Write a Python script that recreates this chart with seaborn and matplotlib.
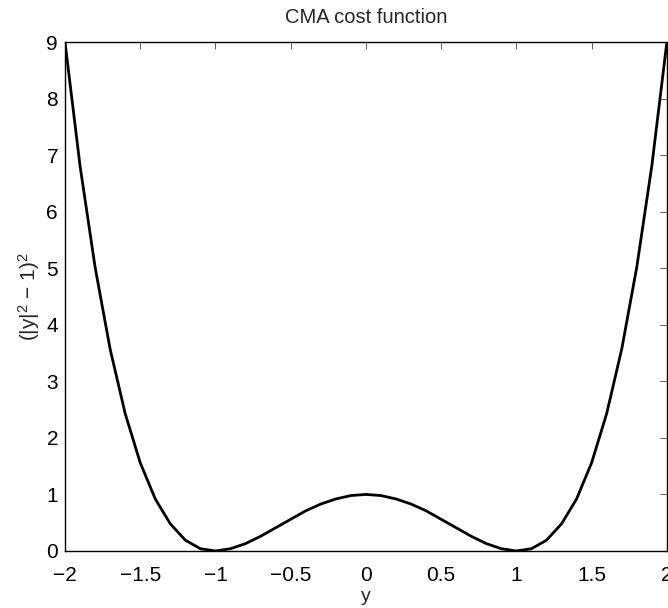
import matplotlib
matplotlib.use("Agg")
import matplotlib.pyplot as plt
import seaborn as sns
import pandas as pd

y_vals = [-2.0, -1.9, -1.8, -1.7, -1.6, -1.5, -1.4, -1.3, -1.2, -1.1, -1.0,
          -0.9, -0.8, -0.7, -0.6, -0.5, -0.4, -0.3, -0.2, -0.1, 0.0,
          0.1, 0.2, 0.3, 0.4, 0.5, 0.6, 0.7, 0.8, 0.9, 1.0,
          1.1, 1.2, 1.3, 1.4, 1.5, 1.6, 1.7, 1.8, 1.9, 2.0]
cost_vals = [9.00, 6.81, 5.02, 3.57, 2.43, 1.56, 0.92, 0.48, 0.19, 0.04, 0.00,
             0.04, 0.13, 0.26, 0.41, 0.56, 0.71, 0.83, 0.92, 0.98, 1.00,
             0.98, 0.92, 0.83, 0.71, 0.56, 0.41, 0.26, 0.13, 0.04, 0.00,
             0.04, 0.19, 0.48, 0.92, 1.56, 2.43, 3.57, 5.02, 6.81, 9.00]
x_ticks = [-2, -1.5, -1, -0.5, 0, 0.5, 1, 1.5, 2]
x_tick_labels = ["\u22122", "\u22121.5", "\u22121", "\u22120.5", "0", "0.5", "1", "1.5", "2"]
y_ticks = [0, 1, 2, 3, 4, 5, 6, 7, 8, 9]

df = pd.DataFrame({"y": y_vals, "cost": cost_vals})

sns.set_style("white")
plt.rcParams["font.family"] = ["Liberation Sans", "DejaVu Sans"]
plt.rcParams["mathtext.fontset"] = "custom"
plt.rcParams["mathtext.rm"] = "Liberation Sans"
plt.rcParams["mathtext.it"] = "Liberation Sans:italic"
plt.rcParams["mathtext.bf"] = "Liberation Sans:bold"

fig = plt.figure(figsize=(6.68, 6.08), dpi=100)
ax = fig.add_axes([0.0973, 0.0938, 0.901, 0.837])

sns.lineplot(data=df, x="y", y="cost", ax=ax, color="black", linewidth=2.0,
             sort=False, estimator=None)

ax.set_xlim(-2, 2)
ax.set_ylim(0, 9)
ax.set_xticks(x_ticks)
ax.set_xticklabels(x_tick_labels)
ax.set_yticks(y_ticks)
ax.tick_params(axis="both", which="both", direction="in", length=5, width=0.6,
               color="#444444", labelsize=15, top=True, right=True,
               labelcolor="black")
ax.tick_params(axis="x", pad=11)
ax.tick_params(axis="y", pad=5)
for s in ax.spines.values():
    s.set_visible(True)
    s.set_color("black")
    s.set_linewidth(1.0)

ax.set_xlabel("y", fontsize=14, labelpad=2)
ax.set_ylabel("(|y|$^2$ \u2212 1)$^2$", fontsize=15, labelpad=3)
ax.set_title("CMA cost function", fontsize=14.5, pad=14)

fig.savefig("out.png", dpi=100)
